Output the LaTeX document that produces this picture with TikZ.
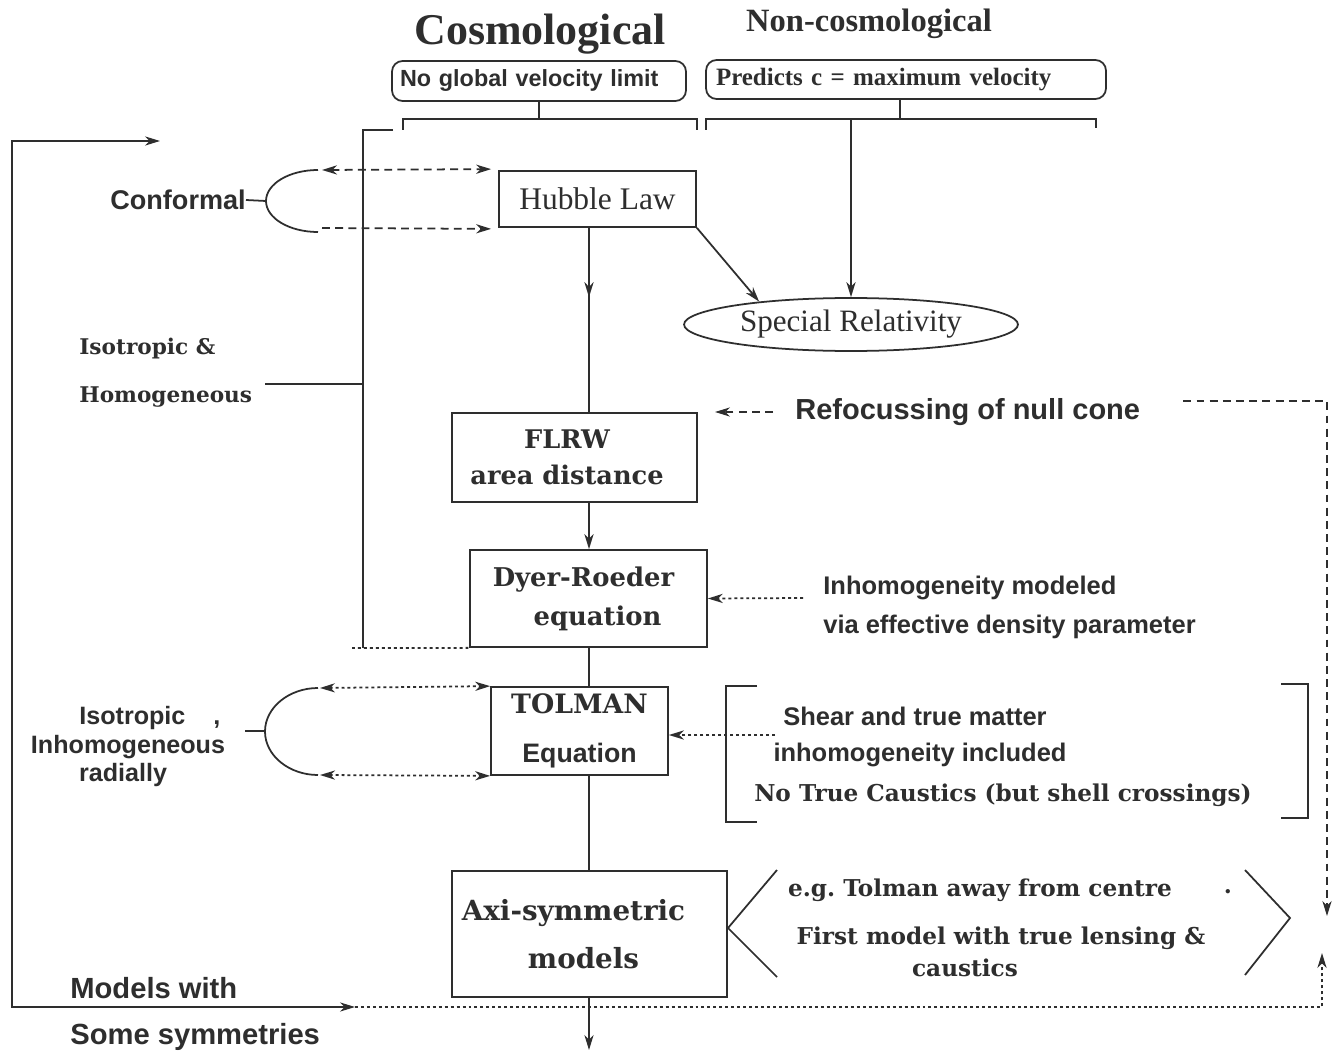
\documentclass[tikz,border=0pt]{standalone}
\usepackage{fontspec}
\setmainfont{Liberation Serif}
\newfontfamily\schfont{DejaVu Serif}
\newfontfamily\helfont{Liberation Sans}
\usetikzlibrary{shapes.geometric,arrows.meta,decorations.markings,calc}
\newcommand\fsz[2]{\fontsize{#1}{#2}\selectfont}
\definecolor{inkc}{gray}{0.18}
\tikzset{
  mytip/.tip={Stealth[length=8.5pt,width=5.2pt,inset=2.6pt]},
  ln/.style={draw=inkc, line width=1pt},
  arr/.style={-mytip},
  dbl/.style={mytip-mytip},
  dotl/.style={dash pattern=on 1.7pt off 1.7pt},
  dashl/.style={dash pattern=on 4.5pt off 3pt},
  box/.style={draw=inkc, line width=1pt, inner sep=0pt, align=center, text=inkc},
  rbox/.style={box, rounded corners=6pt, align=left},
  lbl/.style={text=inkc, inner sep=0pt},
  midarr/.style={postaction={decorate}, decoration={markings, mark=at position 0.376 with {\arrow{mytip}}}},
}
\begin{document}
\frenchspacing
\begin{tikzpicture}[x=0.02cm, y=-0.02cm]
\fill[white] (0,0) rectangle (1336,1051);
\useasboundingbox (0,0) rectangle (1336,1051);

% titles
\node[lbl, font=\fsz{25}{30}\bfseries] (cosmo) at (540,34) {Cosmological};
\node[lbl, font=\fsz{18.5}{22}\bfseries] (noncosmo) at (869,24) {Non-cosmological};

% top boxes
\node[rbox, inner xsep=0.16cm, text width=5.56cm, minimum height=0.8cm, font=\helfont\bfseries\fsz{13.3}{16}] (nogl) at (539,81) {No global velocity limit};
\node[rbox, inner xsep=0.2cm, text width=7.6cm, minimum height=0.78cm, font=\bfseries\fsz{14.2}{17}] (pred) at (906,79.5) {Predicts c = maximum velocity};

% main boxes
\node[box, minimum width=3.94cm, minimum height=1.12cm, font=\fsz{17.9}{21}] (hubble) at (597.5,199) {Hubble Law};
\node[ellipse, draw=inkc, line width=1pt, inner sep=0pt, text=inkc, minimum width=6.68cm, minimum height=1.06cm, font=\fsz{17.7}{21}] (sr) at (851,324.5) {Special Relativity};
\node[box, minimum width=4.9cm, minimum height=1.78cm, font=\schfont\bfseries\fsz{14.6}{20.5}] (flrw) at (574.5,457.5) {FLRW\hspace*{0.3cm}\\area distance\hspace*{0.3cm}};
\node[box, minimum width=4.74cm, minimum height=1.94cm, font=\schfont\bfseries\fsz{14.7}{22.2}] (dyer) at (588.5,598.5) {Dyer-Roeder\hspace*{0.2cm}\\\ \ equation};
\node[box, minimum width=3.54cm, minimum height=1.76cm, font=\bfseries\fsz{15.2}{27.5}] (tolman) at (579.5,731) {\schfont TOLMAN\\\helfont Equation};
\node[box, minimum width=5.5cm, minimum height=2.52cm, font=\schfont\bfseries\fsz{15.8}{27.3}] (axi) at (589.5,934) {Axi-symmetric\hspace*{0.64cm}\\models\hspace*{0.24cm}};

% left labels
\node[lbl, anchor=east, font=\helfont\bfseries\fsz{15.4}{18}] (conf) at (246,200) {Conformal};
\node[lbl, anchor=west, font=\schfont\bfseries\fsz{12.3}{15}] (iso1) at (79,349) {Isotropic \&};
\node[lbl, anchor=west, font=\schfont\bfseries\fsz{12.3}{15}] (homo) at (79,397) {Homogeneous};
\node[lbl, anchor=west, font=\helfont\bfseries\fsz{14.3}{16.2}] (iso2) at (79,718) {Isotropic\ \ \ \ ,};
\node[lbl, font=\helfont\bfseries\fsz{14.3}{16.2}] (inh2) at (128,747) {Inhomogeneous};
\node[lbl, font=\helfont\bfseries\fsz{14.3}{16.2}] (rad2) at (123,775) {radially};
\node[lbl, anchor=west, font=\helfont\bfseries\fsz{16.6}{20}] (mw) at (70,988) {Models with};
\node[lbl, anchor=west, font=\helfont\bfseries\fsz{16.6}{20}] (ss) at (70,1037) {Some symmetries};

% right labels
\node[lbl, anchor=west, font=\helfont\bfseries\fsz{16.5}{20}] (refoc) at (795,412) {Refocussing of null cone};
\node[lbl, anchor=west, align=left, font=\helfont\bfseries\fsz{14.5}{22.2}] (inhom) at (823,607.5) {Inhomogeneity modeled\\via effective density parameter};
\node[lbl, font=\helfont\bfseries\fsz{14.5}{17}] (shear) at (915,716) {Shear and true matter};
\node[lbl, font=\helfont\bfseries\fsz{14.5}{17}] (inhinc) at (920,755) {inhomogeneity included};
\node[lbl, font=\schfont\bfseries\fsz{13.2}{15}] (nocaus) at (1003,795) {No True Caustics (but shell crossings)};
\node[lbl, font=\schfont\bfseries\fsz{13.2}{15}] (eg) at (980,890) {e.g. Tolman away from centre};
\node[lbl, font=\schfont\bfseries\fsz{13.2}{15}] (first) at (1001,938) {First model with true lensing \&};
\node[lbl, font=\schfont\bfseries\fsz{13.2}{15}] (caus) at (965,968) {caustics};
\node[lbl, font=\schfont\bfseries\fsz{13.2}{15}] (dot) at (1228,892) {.};

% coordinates
\coordinate (sp) at (589,0);
\coordinate (downend) at (589,1050);
\coordinate (lt) at (160,141);
\coordinate (lb) at (355,1007);
\coordinate (reftip) at (715,412);

% top brackets
\draw[ln] (nogl.south) -- (nogl.south |- 0,119);
\draw[ln] (403,130) -- (403,119) -- (697,119) -- (697,130);
\draw[ln] (900,99) -- (900,119);
\draw[ln] (706,130) -- (706,119) -- (1096,119) -- (1096,128);
\draw[ln,arr] (sr.north |- 0,119) -- (sr.north);
\draw[ln,arr] (hubble.south east) -- (sr.166);

% spine
\draw[ln,midarr] (hubble.south -| sp) -- (flrw.north -| sp);
\draw[ln,arr] (flrw.south -| sp) -- (dyer.north -| sp);
\draw[ln] (dyer.south -| sp) -- (tolman.north -| sp);
\draw[ln] (tolman.south -| sp) -- (axi.north -| sp);
\draw[ln,arr] (axi.south -| sp) -- (downend);

% left bracket
\draw[ln] (393,130) -- (363,130) -- (363,648);
\draw[ln,dotl] (352,648) -- (dyer.south west);
\draw[ln] (265,384) -- (363,384);

% big loop
\draw[ln,dbl] (lt) -- (12,141) -- (12,1007) -- (lb);
\draw[ln,dotl,arr] (lb) -- (1322,1007) -- (1322,953);
\draw[ln,dashl,arr] ($(refoc.east)+(43,-11)$) -- (1327,401) -- (1327,916);
\draw[ln,dashl,arr] ($(refoc.west)+(-22,0)$) -- (reftip);

% conformal
\draw[ln] (conf.east) -- (266,201);
\draw[ln] (318,170) .. controls (289,170) and (266,184) .. (266,201) .. controls (266,218) and (289,232) .. (318,232);
\draw[ln,dashl,dbl] (322,170) -- ($(hubble.north west)+(-7,-1)$);
\draw[ln,dashl,arr] (322,228) -- ($(hubble.south west)+(-7,1)$);

% isotropic inhomogeneous
\draw[ln] (245,731) -- (265,731);
\draw[ln] (318,688) .. controls (289,688) and (265,707.5) .. (265,731.5) .. controls (265,755.5) and (289,775) .. (318,775);
\draw[ln,dotl,dbl] (320,688) -- (tolman.north west);
\draw[ln,dotl,dbl] (320,775) -- (tolman.south west);

% right side annotations
\draw[ln,dotl,arr] ($(inhom.west)+(-20,-9.5)$) -- (dyer.east);
\draw[ln,dotl,arr] (775,735) -- (tolman.east |- 0,735);
\draw[ln] (757,686) -- (726,686) -- (726,822) -- (757,822);
\draw[ln] (1281,684) -- (1308,684) -- (1308,818) -- (1281,818);
\draw[ln] (777,870) -- (728,928) -- (777,977);
\draw[ln] (1245,870) -- (1290,918) -- (1245,975);
\end{tikzpicture}
\end{document}
